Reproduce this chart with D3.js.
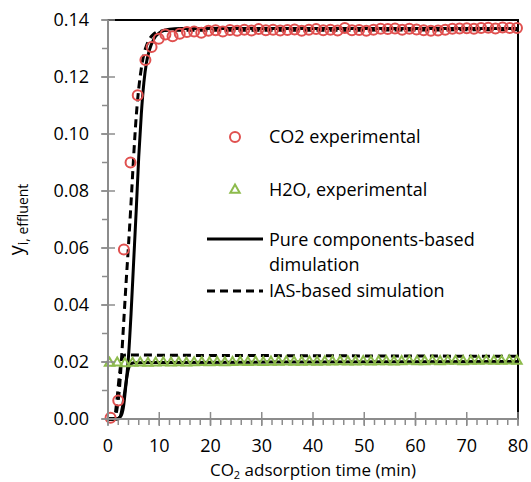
<!DOCTYPE html>
<html>
<head>
<meta charset="utf-8">
<script src="https://cdn.jsdelivr.net/npm/d3@7"></script>
<style>
  body { margin: 0; background: #fff; }
  text { font-family: "Open Sans", sans-serif; fill: #000; }
</style>
</head>
<body>
<div id="chart"></div>
<script>
// CO2 experimental points (time in min, mole fraction)
var co2Time = [0.5, 2.0, 3.1, 4.4, 5.8, 7.3, 8.5, 9.9, 11.2, 12.6, 14.0, 15.4, 16.8, 18.2, 19.6,
  21.0, 22.4, 23.8, 25.2, 26.6, 28.0, 29.4, 30.8, 32.2, 33.6, 35.0, 36.4, 37.8, 39.2, 40.6,
  42.0, 43.4, 44.8, 46.2, 47.6, 49.0, 50.4, 51.8, 53.2, 54.6, 56.0, 57.4, 58.8, 60.2, 61.6,
  63.0, 64.4, 65.8, 67.2, 68.6, 70.0, 71.4, 72.8, 74.2, 75.6, 77.0, 78.4, 79.8];
var co2Exp = [0.0004, 0.0065, 0.0595, 0.0900, 0.1136, 0.1260, 0.1305, 0.1334, 0.1349, 0.1343, 0.1352, 0.1358, 0.1360, 0.1355, 0.1362,
  0.1364, 0.1360, 0.1365, 0.1362, 0.1366, 0.1363, 0.1368, 0.1364, 0.1366, 0.1363, 0.1365, 0.1367, 0.1362, 0.1366, 0.1368,
  0.1364, 0.1366, 0.1363, 0.1372, 0.1364, 0.1365, 0.1362, 0.1366, 0.1369, 0.1368, 0.1370, 0.1366, 0.1369, 0.1367, 0.1364,
  0.1362, 0.1363, 0.1366, 0.1369, 0.1370, 0.1371, 0.1369, 0.1372, 0.1373, 0.1370, 0.1374, 0.1372, 0.1372];

// H2O experimental points
var h2oTime = [0.3, 1.8, 3.3, 4.8, 6.3, 7.8, 9.3, 10.8, 12.3, 13.8, 15.3, 16.8, 18.3, 19.8, 21.3,
  22.8, 24.3, 25.8, 27.3, 28.8, 30.3, 31.8, 33.3, 34.8, 36.3, 37.8, 39.3, 40.8, 42.3, 43.8,
  45.3, 46.8, 48.3, 49.8, 51.3, 52.8, 54.3, 55.8, 57.3, 58.8, 60.3, 61.8, 63.3, 64.8, 66.3,
  67.8, 69.3, 70.8, 72.3, 73.8, 75.3, 76.8, 78.3, 79.8];
var h2oExp = [0.0196, 0.0197, 0.0195, 0.0196, 0.0197, 0.0196, 0.0197, 0.0198, 0.0197, 0.0198, 0.0197, 0.0198, 0.0199, 0.0198, 0.0199,
  0.0198, 0.0199, 0.0200, 0.0199, 0.0200, 0.0199, 0.0200, 0.0200, 0.0201, 0.0200, 0.0200, 0.0201, 0.0200, 0.0201, 0.0201,
  0.0202, 0.0201, 0.0201, 0.0202, 0.0201, 0.0202, 0.0202, 0.0201, 0.0202, 0.0203, 0.0202, 0.0202, 0.0203, 0.0202, 0.0203,
  0.0203, 0.0202, 0.0203, 0.0203, 0.0204, 0.0203, 0.0203, 0.0204, 0.0203];

// pure components-based simulation
var pureCO2Time = [0, 1.5, 2.5, 3.0, 3.5, 4.0, 4.5, 5.0, 5.5, 6.0, 6.5, 7.0, 7.5, 8.0, 9.0, 10, 11, 12, 14, 20, 40, 60, 80];
var pureCO2 = [0, 0, 0.001, 0.004, 0.012, 0.022, 0.037, 0.055, 0.073, 0.092, 0.107, 0.118, 0.125, 0.129, 0.1335, 0.1355, 0.1364, 0.1368, 0.1370, 0.1370, 0.1370, 0.1370, 0.1370];
var pureH2OTime = [0, 2.0, 2.8, 3.3, 3.8, 4.3, 5, 10, 40, 80];
var pureH2O = [0, 0, 0.004, 0.010, 0.016, 0.019, 0.0197, 0.0198, 0.0200, 0.0202];

// IAS-based simulation
var iasCO2Time = [0, 1.2, 1.8, 2.2, 2.6, 3.0, 3.5, 4.0, 4.5, 5.0, 5.5, 6.0, 6.5, 7.0, 7.5, 8, 9, 10, 12, 20, 40, 60, 80];
var iasCO2 = [0, 0, 0.004, 0.010, 0.020, 0.032, 0.047, 0.061, 0.076, 0.092, 0.106, 0.116, 0.123, 0.128, 0.131, 0.133, 0.1352, 0.1360, 0.1364, 0.1364, 0.1364, 0.1365, 0.1366];
var iasH2OTime = [0, 1.2, 1.7, 2.2, 2.7, 3.2, 4, 10, 40, 80];
var iasH2O = [0, 0, 0.006, 0.015, 0.021, 0.0224, 0.0225, 0.0224, 0.0222, 0.0220];

var xTicks = [0, 10, 20, 30, 40, 50, 60, 70, 80];
var yTicks = [0, 0.02, 0.04, 0.06, 0.08, 0.10, 0.12, 0.14];

var margin = {top: 20, left: 108, right: 13, bottom: 63},
    width = 531 - margin.left - margin.right,
    height = 482 - margin.top - margin.bottom;

var svg = d3.select("#chart")
  .append("svg")
  .attr("width", 531)
  .attr("height", 482)
  .append("g")
  .attr("transform", "translate(" + margin.left + "," + margin.top + ")");

var x = d3.scaleLinear().domain([0, 80]).range([0, width]);
var y = d3.scaleLinear().domain([0, 0.14]).range([height, 0]);

var red = "#E0504F", green = "#8DBB4C", grey = "#8C8C8C";

// plot border (axes are drawn over it)
svg.append("rect")
  .attr("x", 0).attr("y", 0)
  .attr("width", width).attr("height", height)
  .attr("fill", "none")
  .attr("stroke", "#000")
  .attr("stroke-width", 2);

var line = d3.line()
  .x(function(d) { return x(d[0]); })
  .y(function(d) { return y(d[1]); })
  .curve(d3.curveMonotoneX);

function pairs(ts, vs) { return ts.map(function(t, i) { return [t, vs[i]]; }); }

// simulations
[[pureCO2Time, pureCO2, null], [pureH2OTime, pureH2O, null],
 [iasCO2Time, iasCO2, "8,5"], [iasH2OTime, iasH2O, "8,5"]].forEach(function(s) {
  svg.append("path")
    .datum(pairs(s[0], s[1]))
    .attr("d", line)
    .attr("fill", "none")
    .attr("stroke", "#000")
    .attr("stroke-width", 3)
    .attr("stroke-dasharray", s[2]);
});

// experimental markers
svg.selectAll(".h2o")
  .data(pairs(h2oTime, h2oExp))
  .enter()
  .append("path")
  .attr("class", "h2o")
  .attr("d", d3.symbol().type(d3.symbolTriangle).size(38))
  .attr("transform", function(d) { return "translate(" + x(d[0]) + "," + y(d[1]) + ")"; })
  .attr("fill", "none")
  .attr("stroke", green)
  .attr("stroke-width", 2);

svg.selectAll(".co2")
  .data(pairs(co2Time, co2Exp))
  .enter()
  .append("circle")
  .attr("class", "co2")
  .attr("cx", function(d) { return x(d[0]); })
  .attr("cy", function(d) { return y(d[1]); })
  .attr("r", 5)
  .attr("fill", "none")
  .attr("stroke", red)
  .attr("stroke-width", 2);

// axes
var xAxis = svg.append("g").attr("transform", "translate(0," + height + ")");
var yAxis = svg.append("g");

xAxis.selectAll(".minor")
  .data(d3.range(0, 81, 2))
  .enter().append("line")
  .attr("x1", x).attr("x2", x)
  .attr("y1", 0).attr("y2", 6)
  .attr("stroke", grey).attr("stroke-width", 1.5);
xAxis.selectAll(".major")
  .data(xTicks)
  .enter().append("line")
  .attr("x1", x).attr("x2", x)
  .attr("y1", -7).attr("y2", 7)
  .attr("stroke", grey).attr("stroke-width", 1.5);
xAxis.append("line")
  .attr("x1", 0).attr("x2", width)
  .attr("stroke", grey).attr("stroke-width", 2);
xAxis.selectAll(".lbl")
  .data(xTicks)
  .enter().append("text")
  .attr("x", x)
  .attr("y", 33)
  .attr("text-anchor", "middle")
  .style("font-size", "18px")
  .text(function(d) { return d; });

yAxis.selectAll(".minor")
  .data(d3.range(0, 0.1401, 0.01))
  .enter().append("line")
  .attr("y1", y).attr("y2", y)
  .attr("x1", -6).attr("x2", 0)
  .attr("stroke", grey).attr("stroke-width", 1.5);
yAxis.selectAll(".major")
  .data(yTicks)
  .enter().append("line")
  .attr("y1", y).attr("y2", y)
  .attr("x1", -7).attr("x2", 7)
  .attr("stroke", grey).attr("stroke-width", 1.5);
yAxis.append("line")
  .attr("y1", 0).attr("y2", height)
  .attr("stroke", grey).attr("stroke-width", 2);
yAxis.selectAll(".lbl")
  .data(yTicks)
  .enter().append("text")
  .attr("x", -19)
  .attr("y", y)
  .attr("dy", "0.35em")
  .attr("text-anchor", "end")
  .style("font-size", "18px")
  .text(d3.format(".2f"));

// axis titles
var xt = svg.append("text")
  .attr("x", width / 2)
  .attr("y", height + 57)
  .attr("text-anchor", "middle")
  .style("font-size", "17px");
xt.append("tspan").text("CO");
xt.append("tspan").attr("dy", 3).style("font-size", "11px").text("2");
xt.append("tspan").attr("dy", -3).text(" adsorption time (min)");

var yt = svg.append("text")
  .attr("transform", "translate(" + (-85) + "," + (height / 2) + ") rotate(-90)")
  .attr("text-anchor", "middle")
  .style("font-size", "20px");
yt.append("tspan").text("y");
yt.append("tspan").attr("dy", 5).style("font-size", "14px").text("i, effluent");

// legend
var lg = svg.append("g");
lg.append("circle")
  .attr("cx", 127).attr("cy", 117).attr("r", 5)
  .attr("fill", "none").attr("stroke", red).attr("stroke-width", 2);
lg.append("path")
  .attr("d", d3.symbol().type(d3.symbolTriangle).size(38))
  .attr("transform", "translate(127,170)")
  .attr("fill", "none").attr("stroke", green).attr("stroke-width", 2);
lg.append("line")
  .attr("x1", 99).attr("x2", 155).attr("y1", 219).attr("y2", 219)
  .attr("stroke", "#000").attr("stroke-width", 3);
lg.append("line")
  .attr("x1", 99).attr("x2", 155).attr("y1", 271).attr("y2", 271)
  .attr("stroke", "#000").attr("stroke-width", 3).attr("stroke-dasharray", "8,5");

var legendText = [["CO2 experimental", 117], ["H2O, experimental", 170],
  ["Pure components-based", 220], ["dimulation", 245], ["IAS-based simulation", 271]];
lg.selectAll(".lt")
  .data(legendText)
  .enter().append("text")
  .attr("x", 161)
  .attr("y", function(d) { return d[1]; })
  .attr("dy", "0.35em")
  .style("font-size", "18px")
  .text(function(d) { return d[0]; });
</script>
</body>
</html>
